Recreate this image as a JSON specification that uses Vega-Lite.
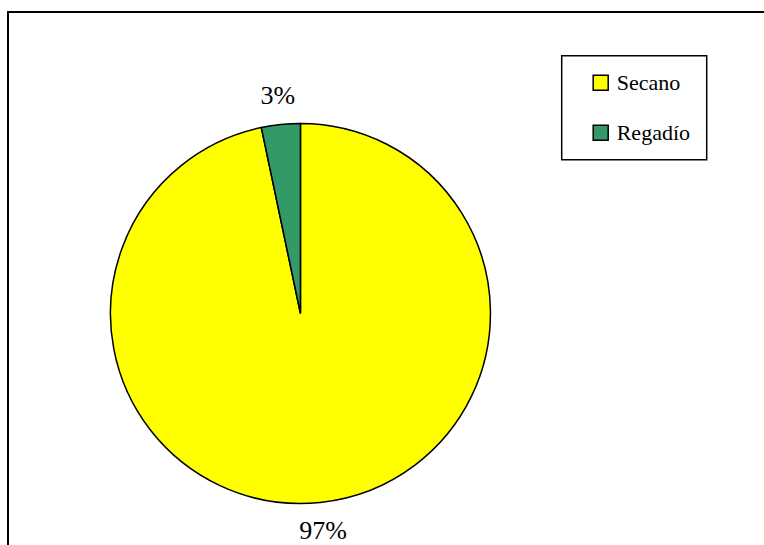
{
  "$schema": "https://vega.github.io/schema/vega-lite/v6.json",
  "width": 756,
  "height": 533,
  "autosize": {"type": "none"},
  "padding": {"left": 8, "top": 12, "right": 0, "bottom": 0},
  "background": "white",
  "data": {
    "values": [
      {"tipo": "Secano", "valor": 96.7, "etiqueta": "97%"},
      {"tipo": "Regadío", "valor": 3.3, "etiqueta": "3%"}
    ]
  },
  "encoding": {
    "theta": {"field": "valor", "type": "quantitative", "stack": true},
    "order": {"field": "valor", "type": "quantitative", "sort": "descending"},
    "x": {"datum": 0, "type": "quantitative", "scale": {"domain": [-1, 1.585], "nice": false, "zero": false}, "axis": null},
    "y": {"datum": 0, "type": "quantitative", "scale": {"domain": [-1, 1.3026], "nice": false, "zero": false}, "axis": null}
  },
  "layer": [
    {
      "mark": {"type": "arc", "outerRadius": 190, "stroke": "black", "strokeWidth": 1.5},
      "encoding": {
        "color": {
          "field": "tipo",
          "type": "nominal",
          "scale": {"domain": ["Secano", "Regadío"], "range": ["#FFFF00", "#339966"]},
          "legend": {
            "orient": "none",
            "legendX": 553.7,
            "legendY": 43.7,
            "title": null,
            "symbolType": "square",
            "symbolSize": 225,
            "symbolStrokeColor": "black",
            "symbolStrokeWidth": 1.5,
            "symbolOpacity": 1,
            "labelFont": "Liberation Serif, Times New Roman, Times, DejaVu Serif, serif",
            "labelFontSize": 22,
            "labelColor": "black",
            "labelOffset": 5,
            "rowPadding": 28,
            "padding": 16,
            "symbolOffset": 12,
            "strokeColor": "black",
            "fillColor": "white"
          }
        }
      }
    },
    {
      "mark": {"type": "text", "radius": 219, "font": "Liberation Serif, Times New Roman, Times, DejaVu Serif, serif", "fontSize": 26, "color": "black", "align": "center", "baseline": "middle"},
      "encoding": {"text": {"field": "etiqueta", "type": "nominal"}}
    }
  ],
  "config": {
    "legend": {"strokeWidth": 1.5},
    "view": {"stroke": "black", "strokeWidth": 2, "strokeDash": [756, 1289, 533]}
  }
}
